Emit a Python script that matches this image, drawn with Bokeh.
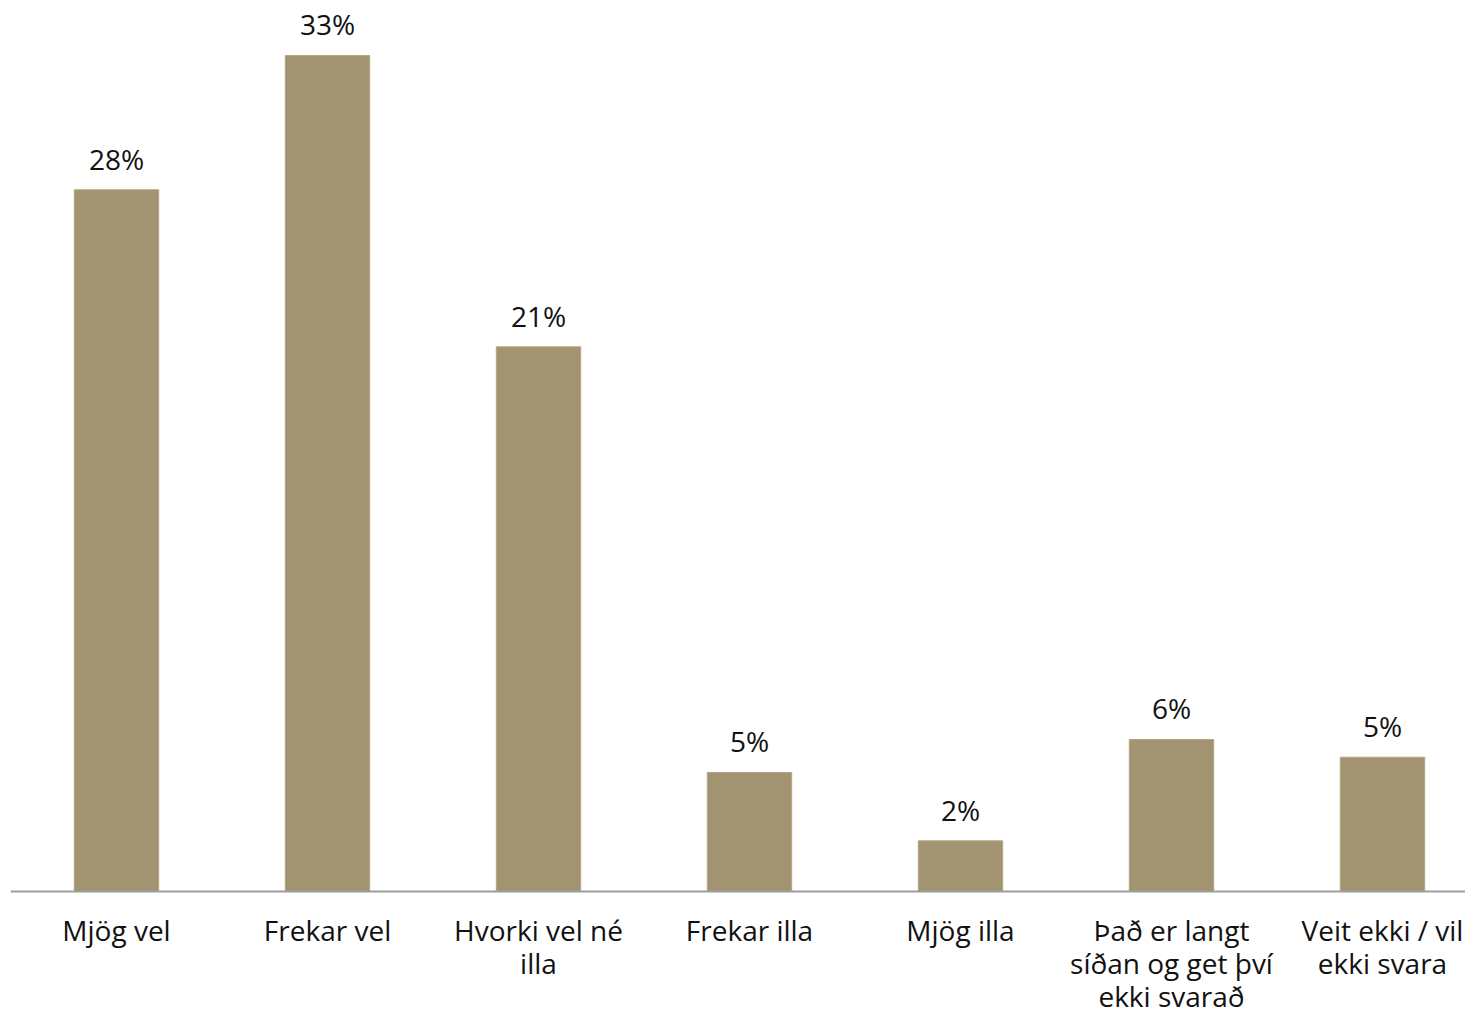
from bokeh.plotting import figure
from bokeh.models import ColumnDataSource, Span
from bokeh.core.properties import value
from bokeh.embed import file_html
from bokeh.resources import INLINE

categories = [
    "Mjög vel",
    "Frekar vel",
    "Hvorki vel né\nilla",
    "Frekar illa",
    "Mjög illa",
    "Það er langt\nsíðan og get því\nekki svarað",
    "Veit ekki / vil\nekki svara",
]
values = [27.7, 33.0, 21.5, 4.7, 2.0, 6.0, 5.3]
value_labels = ["28%", "33%", "21%", "5%", "2%", "6%", "5%"]

FONT = "Open Sans"
BAR_COLOR = "#A39471"

x = list(range(len(categories)))

p = figure(
    width=1465, height=1016,
    x_range=(-0.5024, 6.3934), y_range=(-4.934, 35.17),
    output_backend="svg", toolbar_location=None,
    min_border_left=10, min_border_right=0, min_border_top=0, min_border_bottom=0,
)
p.axis.visible = False
p.grid.visible = False
p.outline_line_color = None
p.background_fill_color = "white"
p.border_fill_color = "white"

src = ColumnDataSource(dict(x=x, top=values, lab=value_labels))
p.vbar(x="x", top="top", bottom=0, width=0.4, source=src,
       fill_color=BAR_COLOR, line_color="#B3A585", line_width=1)

p.add_layout(Span(location=0, dimension="width", line_color="#9D9D9D", line_width=2))

p.text(x="x", y="top", text="lab", source=src, text_font=value(FONT),
       text_font_size="28px", text_color="#111111", text_align="center",
       text_baseline="alphabetic", y_offset=-31)

# category labels, line by line
lx, ly, lt, loff = [], [], [], []
for i, c in enumerate(categories):
    for k, line in enumerate(c.split("\n")):
        lx.append(i)
        ly.append(0)
        lt.append(line)
        loff.append(38 + 33 * k)
lsrc = ColumnDataSource(dict(x=lx, y=ly, t=lt, off=loff))
p.text(x="x", y="y", text="t", y_offset="off", source=lsrc, text_font=value(FONT),
       text_font_size="28px", text_color="#111111", text_align="center",
       text_baseline="alphabetic")

open("out.html", "w").write(file_html(p, INLINE))
